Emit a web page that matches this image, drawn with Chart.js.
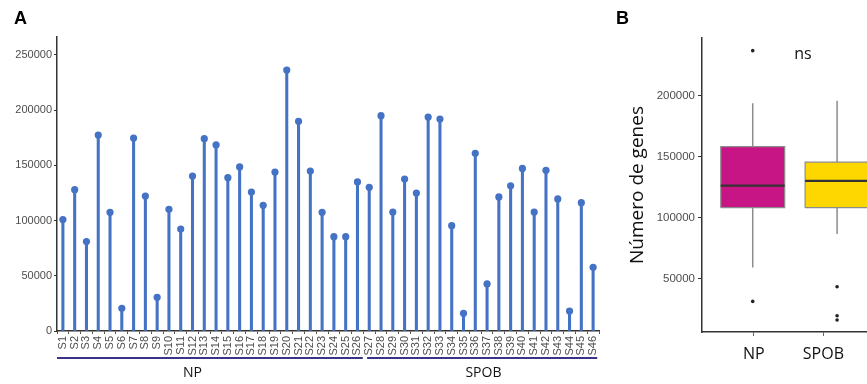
<!DOCTYPE html>
<html>
<head>
<meta charset="utf-8">
<script src="https://cdn.jsdelivr.net/npm/chart.js@4.4.1/dist/chart.umd.min.js"></script>
<style>
  html, body { margin: 0; padding: 0; background: #fff; width: 867px; height: 384px; overflow: hidden; }
  #panelA { position: absolute; left: 0; top: 0; width: 610px; height: 384px; }
  #panelB { position: absolute; left: 600px; top: 0; width: 267px; height: 384px; overflow: hidden; }
  #panelB .inner { position: absolute; left: 0; top: 0; width: 350px; height: 384px; }
  .tag { position: absolute; font: bold 18px "Liberation Sans", Arial, sans-serif; color: #000; line-height: 18px; }
</style>
</head>
<body>
<div id="panelA"><canvas id="lollipop"></canvas></div>
<div id="panelB"><div class="inner"><canvas id="boxes"></canvas></div></div>
<div class="tag" style="left:14px; top:9px;">A</div>
<div class="tag" style="left:616px; top:9px;">B</div>
<script>
// ---- Panel A: genes detected per sample ----
const samples = ['S1','S2','S3','S4','S5','S6','S7','S8','S9','S10','S11','S12','S13','S14','S15','S16',
  'S17','S18','S19','S20','S21','S22','S23','S24','S25','S26','S27','S28','S29','S30','S31','S32',
  'S33','S34','S35','S36','S37','S38','S39','S40','S41','S42','S43','S44','S45','S46'];
const geneCounts = [101000, 128000, 81000, 177500, 107500, 20500, 174800, 122300, 30500, 110200,
  92400, 140400, 174200, 168500, 138900, 148600, 125900, 113800, 144000, 236400,
  189900, 144900, 107500, 85400, 85400, 135000, 130200, 195000, 107800, 137700,
  125000, 193800, 192000, 95400, 16000, 160900, 42600, 121400, 131500, 147300,
  107800, 145500, 119600, 18100, 116200, 57700];
const groupNames = ['NP', 'SPOB'];
const groupSizes = [26, 20];
const yTicksA = [0, 50000, 100000, 150000, 200000, 250000];

// ---- Panel B: distribution per group ----
const boxGroups = ['NP', 'SPOB'];
const whiskerLow = [59000, 86400];
const quartile1 = [108000, 108000];
const medians = [126200, 130100];
const quartile3 = [158200, 145400];
const whiskerHigh = [193800, 195700];
const outliersNP = [31100, 236900];
const outliersSPOB = [43200, 19300, 15900];
const yTicksB = [50000, 100000, 150000, 200000];

const tickFont = { family: '"Liberation Sans", Arial, sans-serif', size: 11 };
const textFamily = '"Open Sans", "Noto Sans", sans-serif';
const stemColor = '#4472C4';
const plainNumber = v => String(v);

// Group brackets and names under the sample labels
const groupBrackets = {
  id: 'groupBrackets',
  afterDraw(chart) {
    const { ctx, chartArea, scales: { x } } = chart;
    const step = x.getPixelForValue(1) - x.getPixelForValue(0);
    const padL = [0.5, 0.18], padR = [0.45, 0.35], labelAt = [0.44, 0.51];
    let first = 0;
    ctx.save();
    groupNames.forEach((name, i) => {
      const last = first + groupSizes[i] - 1;
      const x0 = x.getPixelForValue(first) - padL[i] * step;
      const x1 = x.getPixelForValue(last) + padR[i] * step;
      const y = chartArea.bottom + 27;
      ctx.strokeStyle = '#3a3486';
      ctx.lineWidth = 1.8;
      ctx.beginPath();
      ctx.moveTo(x0, y);
      ctx.lineTo(x1, y);
      ctx.stroke();
      const lx = x.getPixelForValue(first + labelAt[i] * (last - first));
      ctx.fillStyle = '#111';
      ctx.font = '14px ' + textFamily;
      ctx.textAlign = 'center';
      ctx.textBaseline = 'middle';
      ctx.fillText(name, lx, chartArea.bottom + 42);
      first = last + 1;
    });
    ctx.restore();
  }
};

new Chart(document.getElementById('lollipop'), {
  type: 'bar',
  data: {
    labels: samples,
    datasets: [
      { type: 'line', data: geneCounts, showLine: false, pointRadius: 3.6, pointHoverRadius: 3.6,
        pointBackgroundColor: stemColor, pointBorderWidth: 0, order: 0 },
      { type: 'bar', data: geneCounts, backgroundColor: stemColor, barThickness: 2.4, order: 1 }
    ]
  },
  options: {
    responsive: true, maintainAspectRatio: false, animation: false, events: [],
    layout: { padding: { left: 0, right: 11, top: 37, bottom: 0 } },
    plugins: { legend: { display: false }, tooltip: { enabled: false } },
    scales: {
      x: {
        offset: true,
        grid: { drawOnChartArea: false, drawTicks: true, tickLength: 3, color: '#555' },
        border: { color: '#333', width: 1.5 },
        ticks: { minRotation: 90, maxRotation: 90, autoSkip: false, font: tickFont, color: '#4d4d4d', padding: 2 },
        afterFit: s => { s.height = 53; }
      },
      y: {
        min: 0, max: 266300,
        grid: { drawOnChartArea: false, drawTicks: true, tickLength: 3, color: '#333' },
        border: { color: '#333', width: 1.5 },
        afterBuildTicks: s => { s.ticks = yTicksA.map(v => ({ value: v })); },
        ticks: { font: tickFont, color: '#4d4d4d', padding: 2, callback: plainNumber },
        afterFit: s => { s.width = 57; }
      }
    }
  },
  plugins: [groupBrackets]
});

// ---- Panel B drawing ----
const boxFill = ['#C71585', '#FFD700'];
const boxDodge = [-0.017, 0.197];
const halfWidth = 0.46;
const outlierSets = [outliersNP, outliersSPOB];
const boxDatasets = [];
const line = (pts, color, width) => ({ data: pts, borderColor: color, borderWidth: width, pointRadius: 0,
  pointHoverRadius: 0, showLine: true, tension: 0, fill: false });

boxGroups.forEach((g, i) => {
  const c = i + 1 + boxDodge[i];
  boxDatasets.push(line([{ x: c - halfWidth, y: medians[i] }, { x: c + halfWidth, y: medians[i] }], '#333', 2.2));
});
boxGroups.forEach((g, i) => {
  const c = i + 1 + boxDodge[i];
  const ds = line([
    { x: c - halfWidth, y: quartile1[i] }, { x: c + halfWidth, y: quartile1[i] },
    { x: c + halfWidth, y: quartile3[i] }, { x: c - halfWidth, y: quartile3[i] },
    { x: c - halfWidth, y: quartile1[i] }], '#8c8c8c', 1.2);
  ds.fill = 'shape';
  ds.backgroundColor = boxFill[i];
  boxDatasets.push(ds);
});
boxGroups.forEach((g, i) => {
  const c = i + 1 + boxDodge[i];
  boxDatasets.push(line([{ x: c, y: whiskerLow[i] }, { x: c, y: quartile1[i] }], '#8c8c8c', 1.5));
  boxDatasets.push(line([{ x: c, y: quartile3[i] }, { x: c, y: whiskerHigh[i] }], '#8c8c8c', 1.5));
  boxDatasets.push({ data: outlierSets[i].map(v => ({ x: c, y: v })), showLine: false, pointRadius: 1.8,
    pointHoverRadius: 1.8, pointBackgroundColor: '#222', pointBorderWidth: 0 });
});

const nsLabel = {
  id: 'nsLabel',
  afterDraw(chart) {
    const { ctx } = chart;
    ctx.save();
    ctx.fillStyle = '#111';
    ctx.font = '16px ' + textFamily;
    ctx.textAlign = 'center';
    ctx.textBaseline = 'alphabetic';
    ctx.fillText('ns', 203, 59);
    ctx.restore();
  }
};

new Chart(document.getElementById('boxes'), {
  type: 'line',
  data: { datasets: boxDatasets },
  options: {
    responsive: true, maintainAspectRatio: false, animation: false, events: [],
    layout: { padding: { left: 0, right: 0, top: 38, bottom: 0 } },
    plugins: { legend: { display: false }, tooltip: { enabled: false } },
    scales: {
      x: {
        type: 'linear', min: 0.253, max: 3.796,
        grid: { drawOnChartArea: false, drawTicks: true, tickLength: 4, color: '#666' },
        border: { color: '#333', width: 1.5 },
        afterBuildTicks: s => { s.ticks = boxGroups.map((g, i) => ({ value: i + 1 })); },
        ticks: { callback: v => boxGroups[v - 1], font: { family: textFamily, size: 16 }, color: '#111', padding: 9 },
        afterFit: s => { s.height = 52; }
      },
      y: {
        min: 6000, max: 247300,
        grid: { drawOnChartArea: false, drawTicks: true, tickLength: 4, color: '#333' },
        border: { color: '#333', width: 1.5 },
        afterBuildTicks: s => { s.ticks = yTicksB.map(v => ({ value: v })); },
        ticks: { font: { family: tickFont.family, size: 11.5 }, color: '#4d4d4d', padding: 3, callback: plainNumber },
        title: { display: true, text: 'Número de genes', font: { family: textFamily, size: 19 }, color: '#111',
          padding: { top: 26, bottom: 0 } },
        afterFit: s => { s.width = 102; }
      }
    }
  },
  plugins: [nsLabel]
});
</script>
</body>
</html>
